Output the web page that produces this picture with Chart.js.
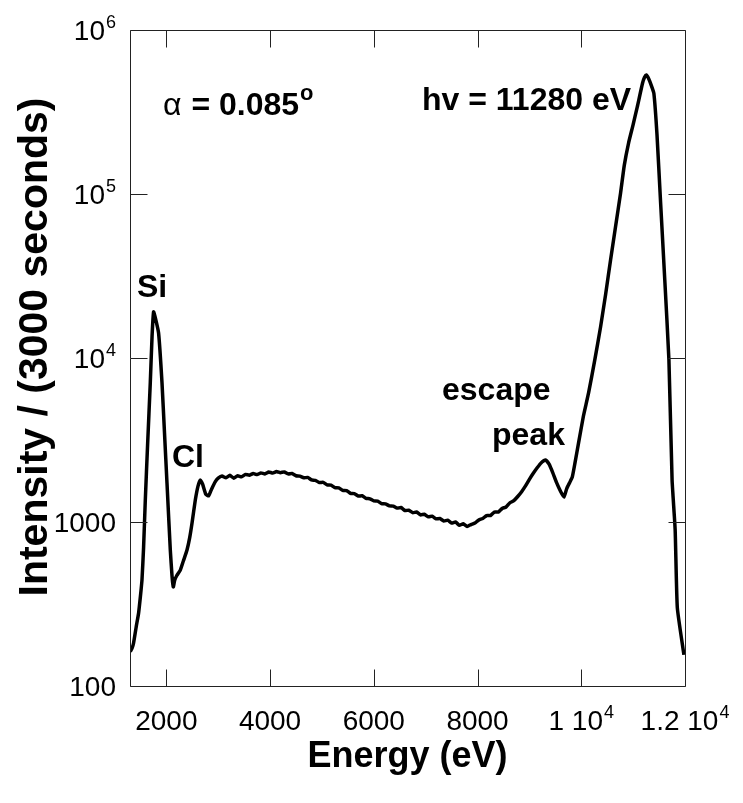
<!DOCTYPE html>
<html><head><meta charset="utf-8">
<script src="https://cdn.jsdelivr.net/npm/chart.js@4"></script>
<style>html,body{margin:0;padding:0;background:#fff;}canvas{display:block;}</style>
</head><body>
<canvas id="c" width="743" height="803"></canvas>
<script>
// ---- data ----
const energy = [
 1305,1340,1369,1420,1466,1500,1531,1562,1595,1640,1691,1725,1755,1790,1851,1917,1965,2013,2077,2110,
 2135,2160,2200,2270,2330,2399,2450,2496,2559,2610,2656,2700,2760,2816,2870,2945,
 3000,3075,3150,3225,3300,3375,3450,3525,3600,3675,3750,3825,3900,3975,4050,4125,4200,4275,4350,4425,
 4500,4575,4650,4725,4800,4875,4950,5025,5100,5175,5250,5325,5400,5475,5550,5625,5700,5775,5850,5925,
 6000,6075,6150,6225,6300,6375,6450,6525,6600,6675,6750,6825,6900,6975,7050,7125,7200,7275,7350,7425,
 7500,7575,7650,7725,7800,7875,7950,8025,8100,8175,8250,8325,8400,8475,8550,8625,8700,8775,8850,8925,
 9000,9075,9150,9230,9311,9380,9450,9520,9600,9665,9720,9780,9827,9880,9948,10040,10141,10260,10372,10470,
 10565,10660,10758,10830,10912,11000,11080,11182,11220,11254,11300,11350,11400,11460,11530,11610,11690,11751,11810,11852,
 11979
];
const intensity = [
 162,170,183,230,279,350,443,700,1360,3000,7050,13500,19100,17500,14200,7050,3500,1730,675,470,
 402,440,470,509,580,675,800,986,1360,1650,1803,1700,1480,1443,1580,1763,
 1850,1905,1860,1925,1850,1915,1885,1950,1930,1975,1945,1990,1965,2015,1990,2030,2000,2020,1965,1975,
 1915,1905,1860,1870,1805,1795,1740,1745,1685,1680,1620,1615,1560,1555,1495,1490,1440,1445,1395,1385,
 1345,1340,1295,1290,1255,1250,1215,1225,1175,1180,1140,1150,1105,1115,1075,1085,1045,1050,1015,1025,
 985,1000,955,975,940,965,985,1030,1050,1095,1095,1150,1150,1210,1235,1310,1350,1430,1530,1660,
 1820,1980,2140,2300,2388,2250,2000,1750,1540,1419,1600,1750,1880,2300,3035,4400,6125,9700,15450,24500,
 39630,63000,101400,150000,204600,265000,340000,475000,515000,532000,505000,460000,411000,230000,88100,30000,9720,1803,900,300,
 155
];
const xTickValues = [2000, 4000, 6000, 8000, 10000, 12000];
const xTickBase   = ['2000', '4000', '6000', '8000', '1 10', '1.2 10'];
const xTickExp    = ['', '', '', '', '4', '4'];
const yTickValues = [100, 1000, 10000, 100000, 1000000];
const yTickBase   = ['100', '1000', '10', '10', '10'];
const yTickExp    = ['', '', '4', '5', '6'];
const xTitle = 'Energy (eV)';
const yTitle = 'Intensity / (3000 seconds)';
const peakLabels = ['Si', 'Cl', 'escape', 'peak'];
const photonLabel = 'hv = 11280 eV';
const angleSymbol = 'α';
const angleValue = ' = 0.085';
const angleUnit = 'o';

const FONT = '"Liberation Sans", Arial, Helvetica, sans-serif';

function drawSupText(ctx, base, exp, x, baseline, align, maxRight) {
  ctx.font = '28px ' + FONT;
  const wb = ctx.measureText(base).width;
  ctx.font = '18px ' + FONT;
  const we = exp ? ctx.measureText(exp).width + 1 : 0;
  const total = wb + we;
  let sx = align === 'right' ? x - total : x - total / 2;
  if (maxRight !== undefined && sx + total > maxRight) sx = maxRight - total;
  ctx.textAlign = 'left';
  ctx.textBaseline = 'alphabetic';
  ctx.font = '28px ' + FONT;
  ctx.fillText(base, sx, baseline);
  if (exp) {
    ctx.font = '18px ' + FONT;
    ctx.fillText(exp, sx + wb + 1, baseline - 12);
  }
}

const framePlugin = {
  id: 'frame',
  afterDraw(chart) {
    const ctx = chart.ctx;
    const a = chart.chartArea;
    const xs = chart.scales.x, ys = chart.scales.y;
    ctx.save();
    ctx.fillStyle = '#000';
    ctx.strokeStyle = '#222';
    ctx.lineWidth = 1;
    const L = Math.round(a.left) + 0.5, R = Math.round(a.right) + 0.5;
    const T = Math.round(a.top) + 0.5, B = Math.round(a.bottom) + 0.5;
    ctx.beginPath();
    ctx.rect(L, T, R - L, B - T);
    ctx.stroke();
    const tick = 17;
    ctx.beginPath();
    xTickValues.forEach(v => {
      const px = Math.round(xs.getPixelForValue(v)) + 0.5;
      if (px > L + 1 && px < R - 1) {
        ctx.moveTo(px, B); ctx.lineTo(px, B - tick);
        ctx.moveTo(px, T); ctx.lineTo(px, T + tick);
      }
    });
    yTickValues.forEach(v => {
      const py = Math.round(ys.getPixelForValue(v)) + 0.5;
      ctx.moveTo(L, py); ctx.lineTo(L + tick, py);
      ctx.moveTo(R, py); ctx.lineTo(R - tick, py);
    });
    ctx.stroke();

    // tick labels
    xTickValues.forEach((v, i) => {
      const px = xs.getPixelForValue(v);
      drawSupText(ctx, xTickBase[i], xTickExp[i], px, 730, 'center', 738);
    });
    yTickValues.forEach((v, i) => {
      const py = ys.getPixelForValue(v);
      drawSupText(ctx, yTickBase[i], yTickExp[i], 116, py + 10, 'right');
    });

    // axis titles
    ctx.font = 'bold 36px ' + FONT;
    ctx.textAlign = 'center';
    ctx.textBaseline = 'alphabetic';
    ctx.fillText(xTitle, (a.left + a.right) / 2, 767);
    ctx.save();
    ctx.font = 'bold 41px ' + FONT;
    ctx.translate(47, 347);
    ctx.rotate(-Math.PI / 2);
    ctx.fillText(yTitle, 0, 0);
    ctx.restore();

    // annotations
    ctx.textAlign = 'left';
    ctx.font = 'bold 32px ' + FONT;
    ctx.fillText(peakLabels[0], 137, 297);
    ctx.fillText(peakLabels[1], 172, 467);
    ctx.fillText(peakLabels[2], 442, 400);
    ctx.fillText(peakLabels[3], 492, 445);
    ctx.fillText(photonLabel, 422, 110);
    ctx.font = '32px ' + FONT;
    ctx.fillText(angleSymbol, 163, 115);
    const wa = ctx.measureText(angleSymbol).width;
    ctx.font = 'bold 32px ' + FONT;
    ctx.fillText(angleValue, 163 + wa + 1, 115);
    const wv = ctx.measureText(angleValue).width;
    ctx.font = 'bold 22px ' + FONT;
    ctx.fillText(angleUnit, 163 + wa + 1 + wv + 1, 100);
    ctx.restore();
  }
};

new Chart(document.getElementById('c'), {
  type: 'line',
  data: {
    datasets: [{
      data: energy.map((e, i) => ({ x: e, y: intensity[i] })),
      borderColor: '#000',
      borderWidth: 3.5,
      pointRadius: 0,
      tension: 0.15,
      fill: false
    }]
  },
  options: {
    responsive: false,
    devicePixelRatio: 1,
    animation: false,
    layout: { padding: { left: 130, top: 30, right: 58, bottom: 117 } },
    plugins: { legend: { display: false }, tooltip: { enabled: false } },
    scales: {
      x: { type: 'linear', min: 1300, max: 12000, display: false },
      y: { type: 'logarithmic', min: 100, max: 1000000, display: false }
    }
  },
  plugins: [framePlugin]
});
</script>
</body></html>
